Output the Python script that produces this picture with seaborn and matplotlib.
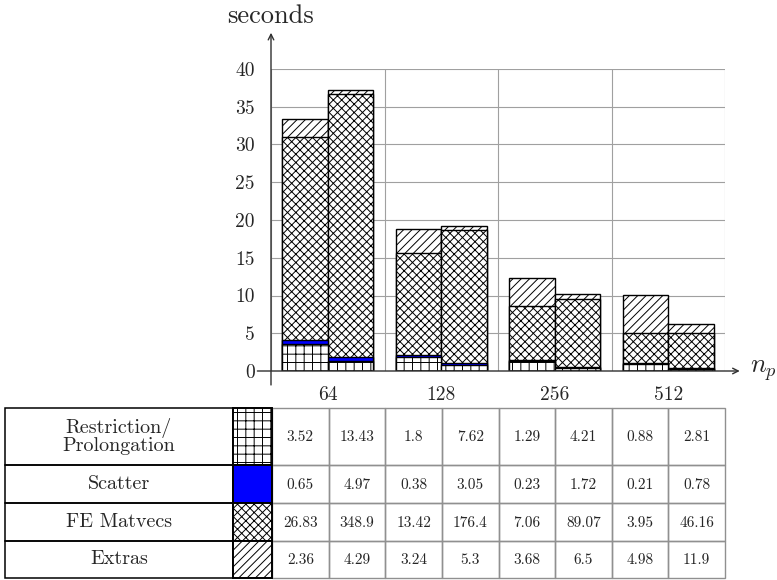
import matplotlib
matplotlib.use("Agg")
import matplotlib.pyplot as plt
from matplotlib.patches import Rectangle
import numpy as np
import pandas as pd
import seaborn as sns

# ---------------- data ----------------
groups = ["64", "128", "256", "512"]
runs = ["a", "b"]
layers = ["Restriction/\nProlongation", "Scatter", "FE Matvecs", "Extras"]

restriction_a = [3.52, 1.8, 1.29, 0.88]
restriction_b = [13.43, 7.62, 4.21, 2.81]
scatter_a = [0.65, 0.38, 0.23, 0.21]
scatter_b = [4.97, 3.05, 1.72, 0.78]
fe_a = [26.83, 13.42, 7.06, 3.95]
fe_b = [348.9, 176.4, 89.07, 46.16]
extras_a = [2.36, 3.24, 3.68, 4.98]
extras_b = [4.29, 5.3, 6.5, 11.9]
run_b_divisor = 10  # second bar of each group is drawn at 1/10 scale

y_ticks = [0, 5, 10, 15, 20, 25, 30, 35, 40]

# ---------------- style ----------------
sns.set_style("white")
plt.rcParams["font.family"] = ["cmr10", "DejaVu Serif"]
plt.rcParams["mathtext.fontset"] = "cm"
plt.rcParams["axes.formatter.use_mathtext"] = True
plt.rcParams["hatch.linewidth"] = 0.7

layer_face = ["white", "#0000ff", "white", "white"]
layer_hatch = ["++", "", "xxxx", "////"]
grid_col = "#a0a0a0"
axis_col = "#303030"

# ---------------- frame ----------------
df = pd.DataFrame({"np": groups * 2, "run": ["a"] * 4 + ["b"] * 4})
vals_a = [restriction_a, scatter_a, fe_a, extras_a]
vals_b = [restriction_b, scatter_b, fe_b, extras_b]
stack = np.array([np.array(a + list(np.array(b) / run_b_divisor)) for a, b in zip(vals_a, vals_b)])
cum = np.cumsum(stack, axis=0)
for i in range(len(layers)):
    df[f"cum{i}"] = cum[i]

W, H = 777, 580
fig = plt.figure(figsize=(W / 100, H / 100), dpi=100)

ax_l, ax_r, ax_t, ax_b = 271, 725, 69, 371
ax = fig.add_axes([ax_l / W, 1 - ax_b / H, (ax_r - ax_l) / W, (ax_b - ax_t) / H])

# draw from the top layer down so lower segments overlay higher cumulative bars
for i in reversed(range(len(layers))):
    n0 = len(ax.patches)
    sns.barplot(data=df, x="np", y=f"cum{i}", hue="run", order=groups, hue_order=runs,
                palette={r: layer_face[i] for r in runs}, saturation=1, width=0.8,
                dodge=True, edgecolor="black", linewidth=1.0, errorbar=None,
                legend=False, ax=ax, zorder=3)
    for p in ax.patches[n0:]:
        p.set_hatch(layer_hatch[i])
        p.set_edgecolor("black")

ax.set_xlim(-0.5, 3.5)
ax.set_ylim(0, 40)
ax.set_xlabel("")
ax.set_ylabel("")
for s in ax.spines.values():
    s.set_visible(False)

# grid & ticks
ax.set_yticks(y_ticks)
ax.set_yticklabels([str(t) for t in y_ticks], fontsize=14)
ax.set_xticks([-0.5, 0.5, 1.5, 2.5, 3.5])
ax.set_xticklabels([])
ax.set_xticks(range(len(groups)), groups, minor=True, fontsize=14)
ax.tick_params(axis="y", which="major", length=5.8, width=0.8, color=grid_col, pad=6)
ax.tick_params(axis="x", which="major", length=5, width=0.8, color=grid_col)
ax.tick_params(axis="x", which="minor", length=5, width=0.8, color="black", pad=6)
ax.grid(True, which="major", color=grid_col, linewidth=0.8)
ax.set_axisbelow(True)

# axis lines with arrows
ax.annotate("", xy=(3.63, 0), xytext=(-0.62, 0), xycoords="data",
            arrowprops=dict(arrowstyle="->", color=axis_col, lw=1.0, shrinkA=0, shrinkB=0),
            annotation_clip=False, zorder=5)
ax.annotate("", xy=(-0.5, 44.8), xytext=(-0.5, -1.85), xycoords="data",
            arrowprops=dict(arrowstyle="->", color=axis_col, lw=1.0, shrinkA=0, shrinkB=0),
            annotation_clip=False, zorder=5)

fig.text(271 / W, 1 - 23 / H, "seconds", ha="center", va="baseline", fontsize=19)
fig.text(750 / W, 1 - 373 / H, r"$n_p$", ha="left", va="baseline", fontsize=19)

# ---------------- table ----------------
tab = fig.add_axes([0, 0, 1, 1])
tab.set_xlim(0, W)
tab.set_ylim(H, 0)
tab.axis("off")

row_y = [408, 465, 503, 541, 578]
col_x = [5, 233, 272] + [272 + (725 - 272) * k / 8 for k in range(1, 9)]

# value cells (gray grid)
for r in range(4):
    for c in range(8):
        x0, x1 = col_x[2 + c], col_x[3 + c]
        tab.add_patch(Rectangle((x0, row_y[r]), x1 - x0, row_y[r + 1] - row_y[r],
                                facecolor="none", edgecolor="#909090", lw=1.0))
# label + swatch cells (black)
for r in range(4):
    y0, y1 = row_y[r], row_y[r + 1]
    tab.add_patch(Rectangle((col_x[0], y0), col_x[1] - col_x[0], y1 - y0,
                            facecolor="none", edgecolor="black", lw=1.1))
    tab.add_patch(Rectangle((col_x[1], y0), col_x[2] - col_x[1], y1 - y0,
                            facecolor=layer_face[r], edgecolor="black", lw=1.4,
                            hatch=layer_hatch[r]))
    tab.text((col_x[0] + col_x[1]) / 2, (y0 + y1) / 2, layers[r], ha="center",
             va="center", fontsize=14.5, linespacing=0.95)
    row_vals = []
    for g in range(4):
        row_vals += [vals_a[r][g], vals_b[r][g]]
    for c, v in enumerate(row_vals):
        tab.text((col_x[2 + c] + col_x[3 + c]) / 2, (y0 + y1) / 2 + 1, f"{v:g}",
                 ha="center", va="center", fontsize=11)

fig.savefig("out.png", dpi=100)
